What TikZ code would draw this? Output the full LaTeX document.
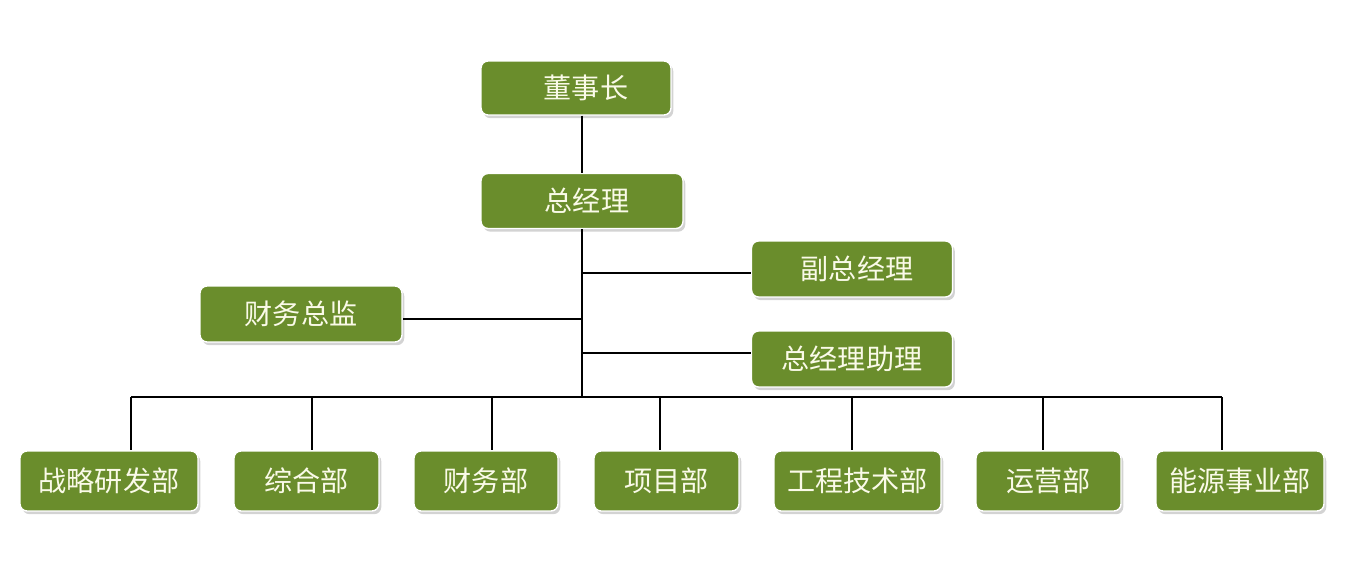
\documentclass[tikz,border=0pt]{standalone}
\usepackage{fontspec}
\newfontfamily\cjk{Noto Sans CJK SC}
\usetikzlibrary{shadows}
\definecolor{boxgreen}{RGB}{106,141,44}
\definecolor{boxtext}{RGB}{250,250,232}

\begin{document}
\begin{tikzpicture}[x=0.02cm,y=-0.02cm,
        unit/.style={draw=white,line width=0.8pt,fill=boxgreen,rounded corners=4pt,
            text=boxtext,font=\cjk\fontsize{16}{18}\selectfont,inner sep=0pt,
            drop shadow={shadow xshift=1.3pt,shadow yshift=-1.8pt,opacity=0.35}},
        link/.style={line width=1.1pt}]
        \useasboundingbox (0,0) rectangle (1355,577);
        % top of the chart
        \node[unit,minimum width=3.8cm,minimum height=1.08cm](dsz)at(576,88){\hspace{0.4cm}董事长};
        \node[unit,minimum width=4.04cm,minimum height=1.1cm](zjl)at(582,201){\hspace{0.2cm}总经理};
        \node[unit,minimum width=4.02cm,minimum height=1.12cm](fzjl)at(852,269){\hspace{0.2cm}副总经理};
        \node[unit,minimum width=4.04cm,minimum height=1.12cm](cwzj)at(301,314){财务总监};
        \node[unit,minimum width=4.02cm,minimum height=1.12cm](zlzl)at(852,359){总经理助理};
        % departments
        \node[unit,minimum width=3.56cm,minimum height=1.2cm](zlyf)at(109,481){战略研发部};
        \node[unit,minimum width=2.9cm,minimum height=1.2cm](zh)at(306.5,481){综合部};
        \node[unit,minimum width=2.88cm,minimum height=1.2cm](cw)at(486,481){财务部};
        \node[unit,minimum width=2.9cm,minimum height=1.2cm](xm)at(666.5,481){项目部};
        \node[unit,minimum width=3.34cm,minimum height=1.2cm](gcjs)at(857.5,481){工程技术部};
        \node[unit,minimum width=2.9cm,minimum height=1.2cm](yy)at(1048.5,481){运营部};
        \node[unit,minimum width=3.36cm,minimum height=1.2cm](nysy)at(1240,481){能源事业部};

        % lines
        \coordinate(bus)at(582,397);
        \coordinate(bfz)at(582,273);
        \coordinate(bcw)at(582,319);
        \coordinate(bzl)at(582,353);
        \draw[link](zjl.north|-dsz.south)--(zjl.north);
        \draw[link](zjl.south)--(bus);
        \draw[link](bfz)--(bfz-|fzjl.west);
        \draw[link](bcw)--(bcw-|cwzj.east);
        \draw[link](bzl)--(bzl-|zlzl.west);
        \draw[link](131,397)--(1222,397);
        \foreach \n/\x in {zlyf/131,zh/312,cw/492,xm/660,gcjs/852,yy/1043,nysy/1222}{
            \coordinate(d)at(\x,397);
            \draw[link](d)--(d|-\n.north);
        }
    \end{tikzpicture}
\end{document}
